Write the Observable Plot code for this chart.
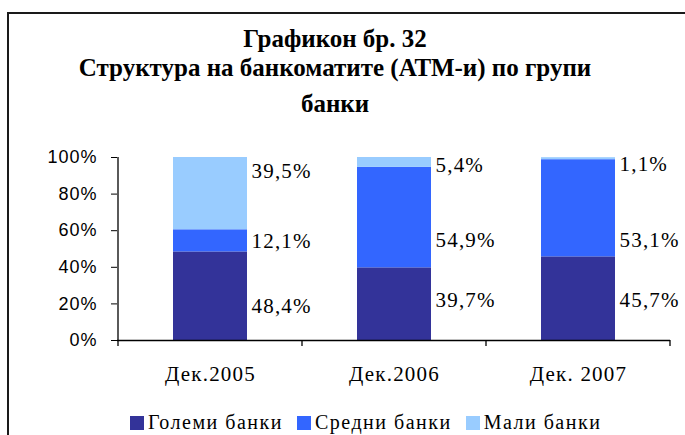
<!DOCTYPE html>
<html><head><meta charset="utf-8">
<script src="https://cdn.jsdelivr.net/npm/d3@7"></script>
<script src="https://cdn.jsdelivr.net/npm/@observablehq/plot@0.6"></script>
<style>
html,body{margin:0;padding:0;background:#fff;}
body{width:685px;height:435px;overflow:hidden;position:relative;font-family:"Liberation Serif",serif;color:#000}
#frame{position:absolute;left:7px;top:12px;width:760px;height:500px;border:2px solid #1a1a1a;box-sizing:border-box}
.t{position:absolute;left:0;width:670px;text-align:center;font-weight:bold;font-size:25px;line-height:25px;white-space:nowrap}
#chart{position:absolute;left:0;top:140px}
#legend{position:absolute;left:130px;top:413px;display:flex;align-items:center;font-size:20px;line-height:19px;white-space:nowrap}
#legend .sw{display:inline-block;width:14px;height:14px;margin-right:4px}
#legend .lab{letter-spacing:1.5px;margin-right:14px}
</style></head>
<body>
<div id="frame"></div>
<div class="t" style="top:26px">Графикон бр. 32</div>
<div class="t" style="top:55px">Структура на банкоматите (АТМ-и) по групи</div>
<div class="t" style="top:91px">банки</div>
<div id="chart"></div>
<div id="legend"></div>
<script>
const dates = ["Дек.2005", "Дек.2006", "Дек. 2007"];
const groups = ["Големи банки", "Средни банки", "Мали банки"];
const golemi = [48.4, 39.7, 45.7];
const sredni = [12.1, 54.9, 53.1];
const mali = [39.5, 5.4, 1.1];
const colors = ["#333399", "#3366FF", "#99CCFF"];
const yTicks = [0, 20, 40, 60, 80, 100];
// heights (in %) at which the value labels sit beside each bar
const labelGolemi = [18.6, 21.9, 21.9];
const labelSredni = [54.1, 54.6, 54.6];
const labelMali = [92.3, 95.6, 96.4];

const series = [golemi, sredni, mali];
const labelSeries = [labelGolemi, labelSredni, labelMali];
const rows = [];
dates.forEach((d, i) => {
  groups.forEach((g, j) => {
    rows.push({date: d, group: g, value: series[j][i], labelY: labelSeries[j][i]});
  });
});
const fmt = v => v.toFixed(1).replace(".", ",") + "%";

const chart = Plot.plot({
  width: 685,
  height: 250,
  marginLeft: 117,
  marginRight: 15,
  marginTop: 17,
  marginBottom: 50,
  style: {background: "transparent", color: "#000", fontFamily: "Liberation Sans", fontSize: "18px"},
  x: {domain: dates, paddingInner: 0.6, paddingOuter: 0.3, label: null},
  y: {domain: [0, 100], label: null},
  color: {domain: groups, range: colors},
  marks: [
    Plot.barY(rows, {x: "date", y: "value", fill: "group"}),
    Plot.ruleY([0], {stroke: "#000", strokeWidth: 1.3}),
    Plot.axisY({ticks: yTicks, tickSize: 6, tickPadding: 14, tickFormat: d => d + "%", fontSize: 18, fontFamily: "Liberation Sans", label: null}),
    Plot.axisX({tickSize: 0, tickPadding: 26, fontSize: 21, fontFamily: "Liberation Serif", label: null}),
    Plot.text(rows, {x: "date", y: "labelY", text: d => fmt(d.value), dx: 41, textAnchor: "start", fontSize: 21, fontFamily: "Liberation Serif", fill: "#000"})
  ]
});
document.getElementById("chart").appendChild(chart);

const svg = d3.select(chart);
svg.selectAll('g[aria-label="y-axis tick label"] text').style("letter-spacing", "1px");
svg.selectAll('g[aria-label="x-axis tick label"] text').style("letter-spacing", "1.2px");
svg.selectAll('g[aria-label="text"] text').style("letter-spacing", "1.2px");

// axis line on the left and tick marks between the categories, placed through the scales
const xs = chart.scale("x");
const ys = chart.scale("y");
const y0 = ys.apply(0), y100 = ys.apply(100);
const centers = dates.map(d => xs.apply(d) + xs.bandwidth / 2);
const g = svg.append("g").attr("stroke", "#000").attr("stroke-width", 1.3);
g.append("line").attr("x1", centers[0] - xs.step / 2).attr("x2", centers[0] - xs.step / 2).attr("y1", y100).attr("y2", y0 + 6);
centers.forEach(c => {
  g.append("line").attr("x1", c + xs.step / 2).attr("x2", c + xs.step / 2).attr("y1", y0).attr("y2", y0 + 6);
});

const legend = d3.select("#legend");
groups.forEach((gname, j) => {
  legend.append("span").attr("class", "sw").style("background", colors[j]);
  legend.append("span").attr("class", "lab").text(gname);
});
</script>
</body></html>
